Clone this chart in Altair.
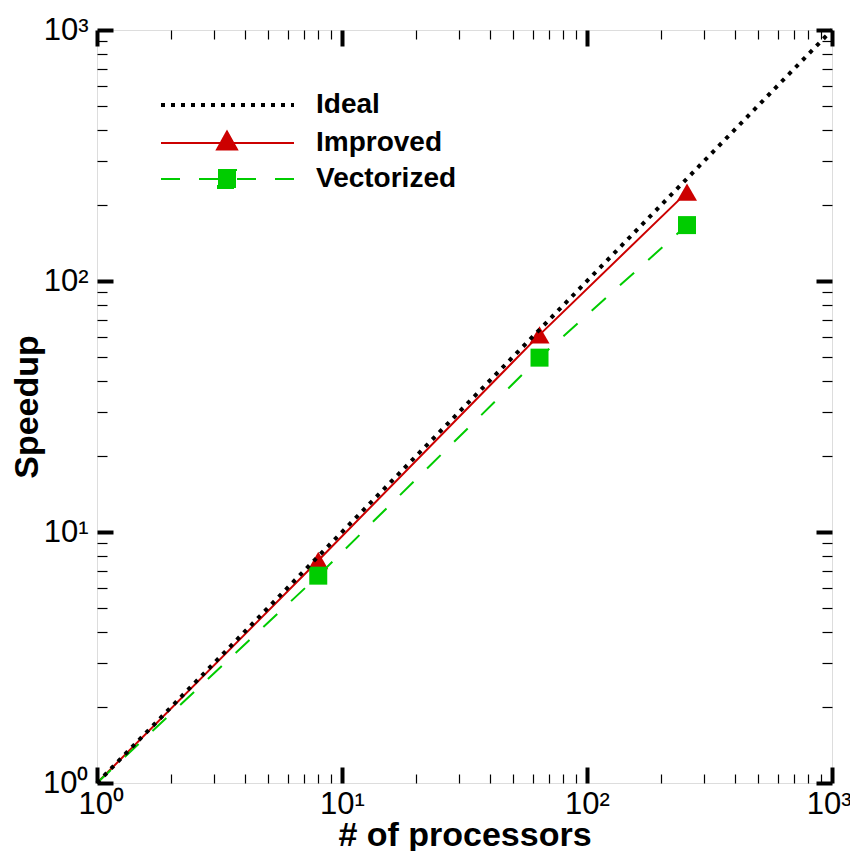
import altair as alt
import pandas as pd

# ---- data ----
procs = [1, 8, 64, 256]
improved = [1, 7.7, 61, 226]
vectorized = [1, 6.7, 49.5, 167]
ideal_x = [1, 1000]
ideal_y = [1, 1000]
series = ["Ideal", "Improved", "Vectorized"]
major_ticks = [1, 10, 100, 1000]
tick_labels = ["10\u2070", "10\u00b9", "10\u00b2", "10\u00b3"]
minor_ticks = [m * d for d in (1, 10, 100) for m in range(2, 10)]

FONT = "Liberation Sans, Arial, sans-serif"
RED = "#cc0000"
GREEN = "#00cc00"
W, H = 735, 753

label_expr = " : ".join(
    f"datum.value == {v} ? '{t}'" for v, t in zip(major_ticks, tick_labels)
) + " : ''"

ideal_df = pd.DataFrame({"x": ideal_x, "y": ideal_y})
imp_df = pd.DataFrame({"x": procs, "y": improved})
vec_df = pd.DataFrame({"x": procs, "y": vectorized})
imp_pts = imp_df[imp_df["x"] > 1]
vec_pts = vec_df[vec_df["x"] > 1]
legend_df = pd.DataFrame({"series": series})

xscale = alt.Scale(type="log", domain=[1, 1000])
yscale = alt.Scale(type="log", domain=[1, 1000])


def tick_axis(orient, values, size, width):
    return alt.Axis(orient=orient, values=values, offset=-size, tickSize=size,
                    tickWidth=width, tickColor="black", labels=False,
                    domain=False, grid=False, title=None, zindex=1)


x_main = alt.Axis(orient="bottom", values=major_ticks, labelExpr=label_expr,
                  ticks=False, tickSize=0, domain=False, grid=False,
                  labelFont=FONT, labelFontSize=31, labelColor="black",
                  labelBaseline="alphabetic", labelPadding=30,
                  labelFlush=True, labelFlushOffset=19, labelOverlap=False,
                  title="# of processors", titleFont=FONT, titleFontSize=34,
                  titleFontWeight="bold", titleColor="black",
                  titleBaseline="alphabetic", titleY=62)
y_main = alt.Axis(orient="left", values=major_ticks, labelExpr=label_expr,
                  ticks=False, tickSize=0, domain=False, grid=False,
                  labelFont=FONT, labelFontSize=31, labelColor="black",
                  labelBaseline="middle", labelPadding=9,
                  labelFlush=False, labelOverlap=False,
                  title="Speedup", titleFont=FONT, titleFontSize=34,
                  titleFontWeight="bold", titleColor="black",
                  titleBaseline="alphabetic", titleAngle=270, titleX=-60)


def enc(chart, xa, ya):
    return chart.encode(
        x=alt.X("x:Q", scale=xscale, axis=xa),
        y=alt.Y("y:Q", scale=yscale, axis=ya),
    )


imp_line = enc(alt.Chart(imp_df).mark_line(color=RED, strokeWidth=2),
               x_main, y_main)
imp_mark = enc(alt.Chart(imp_pts).mark_point(shape="triangle-up", filled=True,
                                            size=400, color=RED, opacity=1),
               tick_axis("bottom", major_ticks, 16, 4),
               tick_axis("left", major_ticks, 16, 4))
vec_line = enc(alt.Chart(vec_df).mark_line(color=GREEN, strokeWidth=2,
                                          strokeDash=[19, 19]),
               tick_axis("bottom", minor_ticks, 9, 1.2),
               tick_axis("left", minor_ticks, 10, 1.2))
vec_mark = enc(alt.Chart(vec_pts).mark_point(shape="square", filled=True,
                                            size=324, color=GREEN, opacity=1),
               tick_axis("top", major_ticks, 16, 4),
               tick_axis("right", major_ticks, 16, 4))
ideal_line = enc(alt.Chart(ideal_df).mark_line(color="black", strokeWidth=4,
                                              strokeDash=[4, 6]),
                 tick_axis("top", minor_ticks, 9, 1.2),
                 tick_axis("right", minor_ticks, 10, 1.2))

# legend carried by invisible (clipped) points
leg = alt.Legend(title=None, orient="none", legendX=64, legendY=61,
                 symbolSize=400, symbolOffset=52, labelOffset=75,
                 labelFont=FONT, labelFontSize=28, labelFontWeight="bold",
                 labelColor="black", labelLimit=400, rowPadding=8, padding=0)
paths = [
    "M-6.6,0H6.7",
    "M-6.6,0H6.7M0,-1.15L1,0.65L-1,0.65Z",
    "M-6.6,0H6.7M-0.9,-0.9H0.9V0.9H-0.9Z",
]
colors = ["black", RED, GREEN]
legend_layer = alt.Chart(legend_df).mark_point(filled=True, clip=True, opacity=1).encode(
    x=alt.value(-300),
    y=alt.value(-300),
    fill=alt.Fill("series:N", scale=alt.Scale(domain=series, range=colors), legend=leg),
    stroke=alt.Stroke("series:N", scale=alt.Scale(domain=series, range=colors), legend=leg),
    shape=alt.Shape("series:N", scale=alt.Scale(domain=series, range=paths), legend=leg),
    strokeDash=alt.StrokeDash("series:N", scale=alt.Scale(domain=series,
                              range=[[4, 6], [1, 0], [19, 19]]), legend=leg),
    strokeWidth=alt.StrokeWidth("series:N", scale=alt.Scale(type="ordinal", domain=series,
                                range=[4, 2, 2]), legend=leg),
)

chart = alt.layer(imp_line, imp_mark, vec_line, vec_mark, ideal_line, legend_layer).resolve_axis(
    x="independent", y="independent"
).properties(
    width=W, height=H,
    padding={"left": 89, "top": 22, "right": 18, "bottom": 68},
    autosize=alt.AutoSizeParams(type="none"),
).configure_view(stroke="black", strokeWidth=4).configure(font=FONT)

chart.save("out.html", embed_options={"renderer": "svg", "actions": False})
